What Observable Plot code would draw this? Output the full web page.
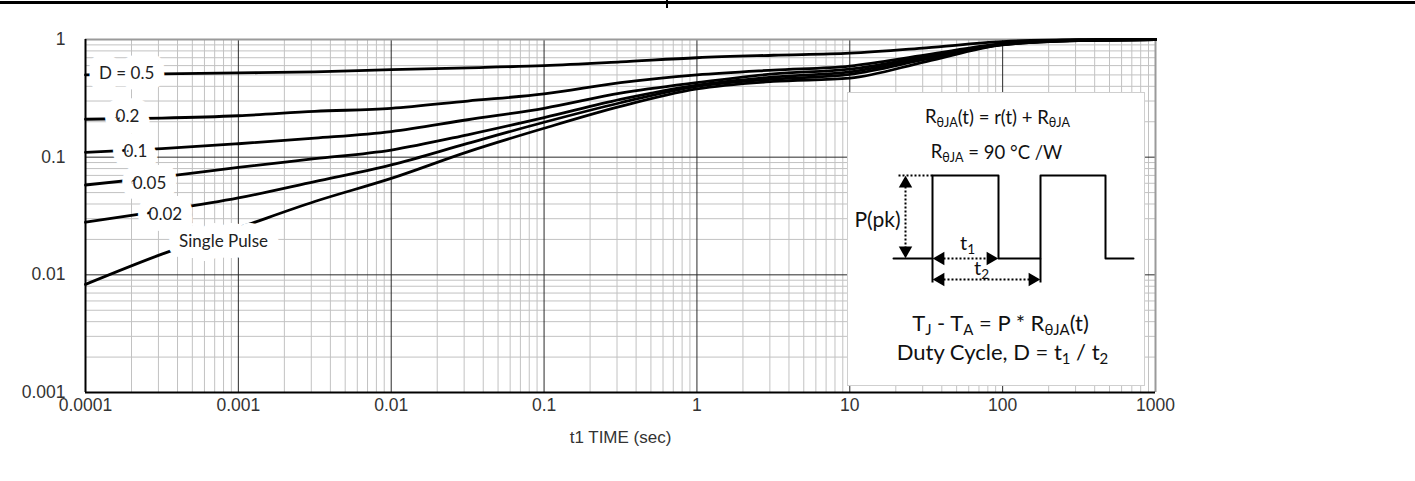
<!DOCTYPE html>
<html><head><meta charset="utf-8">
<script src="https://cdn.jsdelivr.net/npm/d3@7"></script>
<script src="https://cdn.jsdelivr.net/npm/@observablehq/plot@0.6"></script>
<style>
body{margin:0;background:#fff;}
#wrap{position:relative;width:1415px;height:481px;overflow:hidden;background:#fff;}
#topline{position:absolute;left:0;top:1px;width:1415px;height:3px;background:#000;}
#notch{position:absolute;left:666px;top:0;width:2px;height:8px;background:#000;}
#inset{position:absolute;left:847px;top:92px;width:297px;height:293px;background:#fff;}
</style></head><body>
<div id="wrap"><div id="topline"></div><div id="notch"></div><div id="inset"></div></div>
<script>
// ---- data ----
const times = [0.0001, 0.000316, 0.001, 0.00316, 0.01, 0.0316, 0.1, 0.316, 1, 3.16, 10, 31.6, 100, 316, 1000];
const dutyNames = ["0.5", "0.2", "0.1", "0.05", "0.02", "Single"];
const d05    = [0.50, 0.51, 0.52, 0.53, 0.555, 0.575, 0.60, 0.645, 0.70, 0.735, 0.765, 0.85, 0.96, 0.995, 1.0];
const d02    = [0.21, 0.215, 0.225, 0.245, 0.26, 0.30, 0.345, 0.43, 0.50, 0.55, 0.595, 0.74, 0.92, 0.99, 1.0];
const d01    = [0.11, 0.118, 0.13, 0.145, 0.165, 0.208, 0.26, 0.35, 0.43, 0.51, 0.56, 0.72, 0.91, 0.985, 1.0];
const d005   = [0.058, 0.068, 0.082, 0.097, 0.115, 0.155, 0.217, 0.31, 0.41, 0.48, 0.53, 0.70, 0.91, 0.985, 1.0];
const d002   = [0.028, 0.035, 0.045, 0.062, 0.086, 0.131, 0.198, 0.29, 0.40, 0.46, 0.505, 0.68, 0.905, 0.98, 1.0];
const single = [0.0083, 0.015, 0.025, 0.042, 0.066, 0.111, 0.176, 0.27, 0.38, 0.44, 0.47, 0.65, 0.90, 0.98, 1.0];

const labelText = ["D = 0.5", "0.2", "0.1", "0.05", "0.02", "Single Pulse"];
const labelT    = [1.86e-4, 1.88e-4, 2.12e-4, 2.62e-4, 3.33e-4, 8.0e-4];
const labelV    = [0.512, 0.22, 0.111, 0.060, 0.0328, 0.0193];

const xTicks = [0.0001, 0.001, 0.01, 0.1, 1, 10, 100, 1000];
const xTickLabels = ["0.0001", "0.001", "0.01", "0.1", "1", "10", "100", "1000"];
const yTicks = [0.001, 0.01, 0.1, 1];
const yTickLabels = ["0.001", "0.01", "0.1", "1"];
const xTitle = "t1 TIME (sec)";

// inset schematic (box-local units)
const waveX = [46, 85, 85, 151, 151, 193, 193, 258, 258, 286];
const waveY = [166, 166, 83, 83, 166, 166, 83, 83, 166, 166];
const insetTexts = ["R{θJA}(t) = r(t) + R{θJA}", "R{θJA} = 90 °C /W", "P(pk)", "t{1}", "t{2}", "T{J} - T{A} = P * R{θJA}(t)", "Duty Cycle, D = t{1} / t{2}"];
const insetTX = [150, 149, 7, 120, 134, 153, 155];
const insetTY = [25, 60, 128, 151, 176, 231, 260];
const insetTSize = [18.5, 18.5, 21, 20, 20, 22, 22];

// ---- build ----
const seriesVals = [d05, d02, d01, d005, d002, single];
const curves = seriesVals.flatMap((arr, k) => times.map((t, i) => ({t, v: arr[i], s: dutyNames[k]})));
const labels = labelText.map((text, i) => ({text, t: labelT[i], v: labelV[i]}));

const minorX = [], minorY = [];
for (const d of xTicks.slice(0, -1)) for (let k = 2; k <= 9; k++) minorX.push(+(d * k).toPrecision(3));
for (const d of yTicks.slice(0, -1)) for (let k = 2; k <= 9; k++) minorY.push(+(d * k).toPrecision(3));

const xFmt = new Map(xTicks.map((v, i) => [v, xTickLabels[i]]));
const yFmt = new Map(yTicks.map((v, i) => [v, yTickLabels[i]]));

const chart = Plot.plot({
  width: 1415, height: 481,
  marginLeft: 85, marginRight: 260, marginTop: 39, marginBottom: 89,
  style: {fontFamily: "'Liberation Sans', Arial, sans-serif", fontSize: "14px", color: "#333", background: "transparent"},
  x: {type: "log", domain: [1e-4, 1e3]},
  y: {type: "log", domain: [1e-3, 1]},
  marks: [
    Plot.ruleX(minorX, {stroke: "#c2c2c2", strokeWidth: 1}),
    Plot.ruleY(minorY, {stroke: "#c2c2c2", strokeWidth: 1}),
    Plot.ruleX(xTicks, {stroke: "#2a2a2a", strokeWidth: 1}),
    Plot.ruleY(yTicks, {stroke: "#2a2a2a", strokeWidth: 1}),
    Plot.ruleY([1], {stroke: "#9a9a9a", strokeWidth: 2}),
    Plot.ruleX([1000], {stroke: "#9a9a9a", strokeWidth: 2}),
    Plot.ruleX([1e-4], {stroke: "#000", strokeWidth: 2}),
    Plot.ruleY([1e-3], {stroke: "#000", strokeWidth: 2}),
    Plot.line(curves, {x: "t", y: "v", z: "s", stroke: "#000", strokeWidth: 2.8, curve: "monotone-x"}),
    Plot.text(labels, {x: "t", y: "v", text: "text", fill: "#222", stroke: "white", strokeWidth: 22,
      fontSize: 17, fontFamily: "Lato, 'Noto Sans', sans-serif"}),
    Plot.axisX(xTicks, {tickSize: 0, tickPadding: 6, tickFormat: d => xFmt.get(d), label: null, fill: "#333", fontSize: 17.5}),
    Plot.axisY(yTicks, {tickSize: 0, tickPadding: 20, tickFormat: d => yFmt.get(d), label: null, fill: "#333", fontSize: 17.5}),
    Plot.text([xTitle], {frameAnchor: "bottom", dy: 50, fill: "#333", fontSize: 17})
  ]
});
document.getElementById("wrap").prepend(chart);

const P = (x, y) => ({x, y});
const insetData = insetTexts.map((s, i) => ({s, x: insetTX[i], y: insetTY[i], size: insetTSize[i]}));
const insetPlot = Plot.plot({
  width: 297, height: 293, margin: 0,
  x: {domain: [0, 297], axis: null},
  y: {domain: [0, 293], reverse: true, axis: null},
  style: {fontFamily: "Lato, 'Noto Sans', sans-serif", background: "transparent", overflow: "visible"},
  marks: [
    Plot.frame({stroke: "#cfcfcf"}),
    Plot.line(waveX.map((x, i) => P(x, waveY[i])), {x: "x", y: "y", stroke: "#000", strokeWidth: 2}),
    Plot.link([{x1: 85, y1: 166, x2: 85, y2: 190}, {x1: 193, y1: 166, x2: 193, y2: 190}],
      {x1: "x1", y1: "y1", x2: "x2", y2: "y2", stroke: "#000", strokeWidth: 2}),
    Plot.link([{x1: 51, y1: 83, x2: 85, y2: 83}, {x1: 58, y1: 86, x2: 58, y2: 163},
               {x1: 88, y1: 166, x2: 148, y2: 166}, {x1: 88, y1: 187, x2: 190, y2: 187}],
      {x1: "x1", y1: "y1", x2: "x2", y2: "y2", stroke: "#000", strokeWidth: 2, strokeDasharray: "2,2"}),
    Plot.dot([{x: 58, y: 91, r: 0}, {x: 58, y: 158, r: 180}, {x: 93, y: 166, r: 270}, {x: 143, y: 166, r: 90},
              {x: 93, y: 187, r: 270}, {x: 185, y: 187, r: 90}],
      {x: "x", y: "y", rotate: "r", symbol: "triangle", r: 5, fill: "#000", stroke: "none"}),
    Plot.text(insetData.filter(d => d.s !== "P(pk)"), {x: "x", y: "y", text: "s", fontSize: "size", fill: "#111"}),
    Plot.text(insetData.filter(d => d.s === "P(pk)"), {x: "x", y: "y", text: "s", fontSize: "size", fill: "#111", textAnchor: "start"})
  ]
});
document.getElementById("inset").appendChild(insetPlot);

// convert {..} markup to subscripts
insetPlot.querySelectorAll("text").forEach(t => {
  const s = t.textContent;
  if (!s.includes("{")) return;
  t.textContent = "";
  const parts = s.split(/(\{[^}]*\})/).filter(p => p.length);
  let sub = false;
  parts.forEach(p => {
    const ts = document.createElementNS("http://www.w3.org/2000/svg", "tspan");
    if (p.startsWith("{")) {
      ts.textContent = p.slice(1, -1);
      ts.setAttribute("font-size", "68%");
      ts.setAttribute("dy", sub ? "0" : "0.3em");
      sub = true;
    } else {
      ts.textContent = p;
      if (sub) ts.setAttribute("dy", "-0.2em");
      sub = false;
    }
    t.appendChild(ts);
  });
});
</script>
</body></html>
